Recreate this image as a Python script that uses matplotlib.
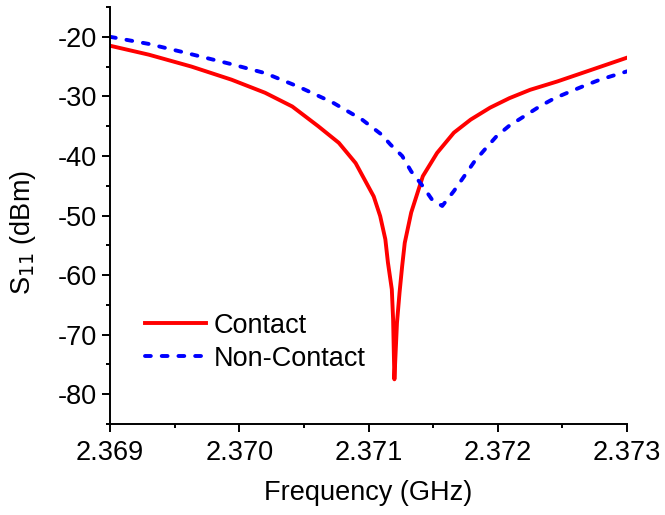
import numpy as np
import matplotlib
matplotlib.use('Agg')
import matplotlib.pyplot as plt
from matplotlib.ticker import MultipleLocator, FormatStrFormatter

plt.rcParams['font.family'] = ['Liberation Sans', 'DejaVu Sans']
plt.rcParams['axes.unicode_minus'] = False

# (GHz, dBm)
contact_f = [2.36900, 2.36930, 2.36963, 2.36994, 2.37020, 2.37041, 2.37061,
             2.37077, 2.37090, 2.37097, 2.37104, 2.37109, 2.37113, 2.37115,
             2.37118, 2.37119, 2.37120, 2.37122, 2.37124, 2.37126, 2.37128,
             2.37133, 2.37142, 2.37153, 2.37166, 2.37179, 2.37194, 2.37209,
             2.37225, 2.37246, 2.37269, 2.37300]
contact_s = [-21.5, -23.0, -25.0, -27.2, -29.4, -31.7, -35.0,
             -37.8, -41.2, -44.0, -46.8, -50.1, -54.0, -57.9,
             -62.4, -67.4, -77.5, -68.0, -62.9, -58.5, -54.6,
             -49.5, -43.4, -39.5, -36.1, -33.9, -31.9, -30.3,
             -28.9, -27.5, -25.8, -23.5]

noncontact_f = [2.36900, 2.36930, 2.36955, 2.36994, 2.37020, 2.37046, 2.37072,
                2.37095, 2.37110, 2.37117, 2.37126, 2.37133, 2.37141, 2.37149,
                2.37157, 2.37166, 2.37175, 2.37182, 2.37190, 2.37199, 2.37209,
                2.37220, 2.37233, 2.37244, 2.37256, 2.37266, 2.37279, 2.37300]
noncontact_s = [-20.0, -21.2, -22.5, -24.6, -26.1, -28.4, -31.0,
                -33.9, -36.4, -38.1, -40.0, -42.6, -44.8, -47.3,
                -48.4, -45.9, -43.1, -40.9, -38.9, -36.7, -34.9,
                -33.4, -31.6, -30.3, -29.2, -28.3, -27.2, -25.8]

fig = plt.figure(figsize=(6.65, 5.15), dpi=100)
ax = fig.add_axes([0.1654, 0.1767, 0.7776, 0.8097])

ax.plot(contact_f, contact_s, color='#ff0000', lw=2.8, label='Contact',
        solid_joinstyle='round')
ax.plot(noncontact_f, noncontact_s, color='#0000ff', lw=2.8, ls=(0, (1.5, 2.8)),
        dash_capstyle='round', label='Non-Contact')

ax.set_xlim(2.369, 2.373)
ax.set_ylim(-85, -15)
ax.xaxis.set_major_locator(MultipleLocator(0.001))
ax.xaxis.set_minor_locator(MultipleLocator(0.0005))
ax.xaxis.set_major_formatter(FormatStrFormatter('%.3f'))
ax.yaxis.set_major_locator(MultipleLocator(10))
ax.yaxis.set_minor_locator(MultipleLocator(5))

for s in ['top', 'right']:
    ax.spines[s].set_visible(False)
for s in ['left', 'bottom']:
    ax.spines[s].set_linewidth(1.4)
ax.tick_params(which='major', direction='out', length=5.5, width=1.4,
               labelsize=19.5)
ax.tick_params(axis='x', which='major', pad=6)
ax.tick_params(axis='y', which='major', pad=4)
ax.tick_params(which='minor', direction='out', length=3, width=1.4)

ax.set_xlabel('Frequency (GHz)', fontsize=19.5, labelpad=10)
ax.set_ylabel('S$_{11}$ (dBm)', fontsize=19.5)
ax.yaxis.set_label_coords(-0.14, 0.46)

ax.legend(loc='lower left', bbox_to_anchor=(0.02, 0.067), frameon=False,
          fontsize=19.5, handlelength=2.25, handletextpad=0.3, labelspacing=0.25)

fig.savefig('out.png', dpi=100)
